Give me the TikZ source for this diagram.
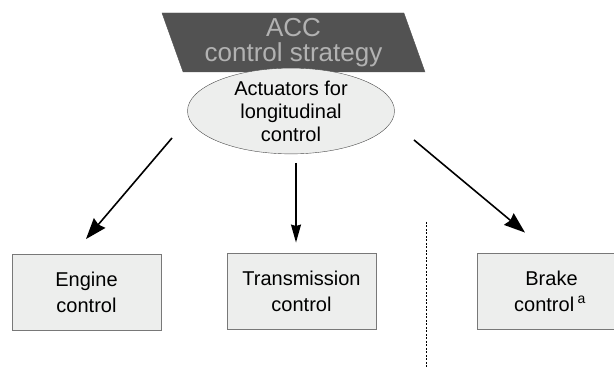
\documentclass[tikz,border=0pt]{standalone}
\usepackage{fontspec}
\setmainfont{Liberation Sans}
\usetikzlibrary{shapes.geometric,arrows.meta}
\definecolor{stratfill}{RGB}{82,82,82}
\definecolor{strattext}{RGB}{178,178,178}
\definecolor{boxfill}{RGB}{237,238,237}
\definecolor{boxline}{RGB}{120,120,120}
\tikzset{
  strategy/.style={trapezium, trapezium left angle=113.5, trapezium right angle=66.5,
    trapezium stretches body, minimum width=263pt, minimum height=59pt, inner sep=0pt,
    fill=stratfill, draw=stratfill, text=strattext, align=center,
    font=\fontsize{26}{25}\selectfont},
  actuator/.style={ellipse, minimum width=207pt, minimum height=74pt, inner sep=0pt,
    fill=boxfill, draw=black!70, thin, align=center,
    font=\fontsize{20}{23}\selectfont},
  ctrlbox/.style={rectangle, minimum width=149pt, minimum height=76pt, inner sep=0pt,
    fill=boxfill, draw=boxline, line width=0.9pt, align=center,
    font=\fontsize{20}{26}\selectfont},
  arr/.style={-{Stealth[length=21pt,width=15pt,inset=2pt]}, line width=1.6pt},
  arrsmall/.style={-{Stealth[length=18pt,width=10pt,inset=1.5pt]}, line width=1.3pt},
  sep/.style={dash pattern=on 2pt off 1.5pt, line width=0.7pt}
}
\begin{document}
\begin{tikzpicture}[x=1pt,y=1pt]
  \useasboundingbox (0,0) rectangle (614,369);

  % strategy and actuators
  \node[strategy] (acc) at (293.5,326.5) {ACC\\control strategy};
  \node[actuator] (act) at (291,258) {Actuators for\\longitudinal\\control};

  % control units
  \node[ctrlbox] (eng) at (86.5,76.5) {Engine\\control};
  \node[ctrlbox] (tra) at (301.5,78) {Transmission\\control};
  \node[ctrlbox] (brk) at (551.5,78) {Brake\\control\,\textsuperscript{a}\hspace*{3pt}};

  % arrow ends
  \coordinate (engfrom) at (172,231);
  \coordinate (engto)   at ([xshift=-0.5pt,yshift=15pt]eng.north);
  \coordinate (trafrom) at (296,206);
  \coordinate (trato)   at ([xshift=-5.5pt,yshift=10pt]tra.north);
  \coordinate (brkfrom) at (414,229);
  \coordinate (brkto)   at ([xshift=-26.5pt,yshift=20pt]brk.north);

  \draw[arr] (engfrom) -- (engto);
  \draw[arrsmall] (trafrom) -- (trato);
  \draw[arr] (brkfrom) -- (brkto);

  % separator
  \coordinate (septop) at (426,147);
  \coordinate (sepbot) at (426,0);
  \draw[sep] (septop) -- (sepbot);
\end{tikzpicture}
\end{document}
